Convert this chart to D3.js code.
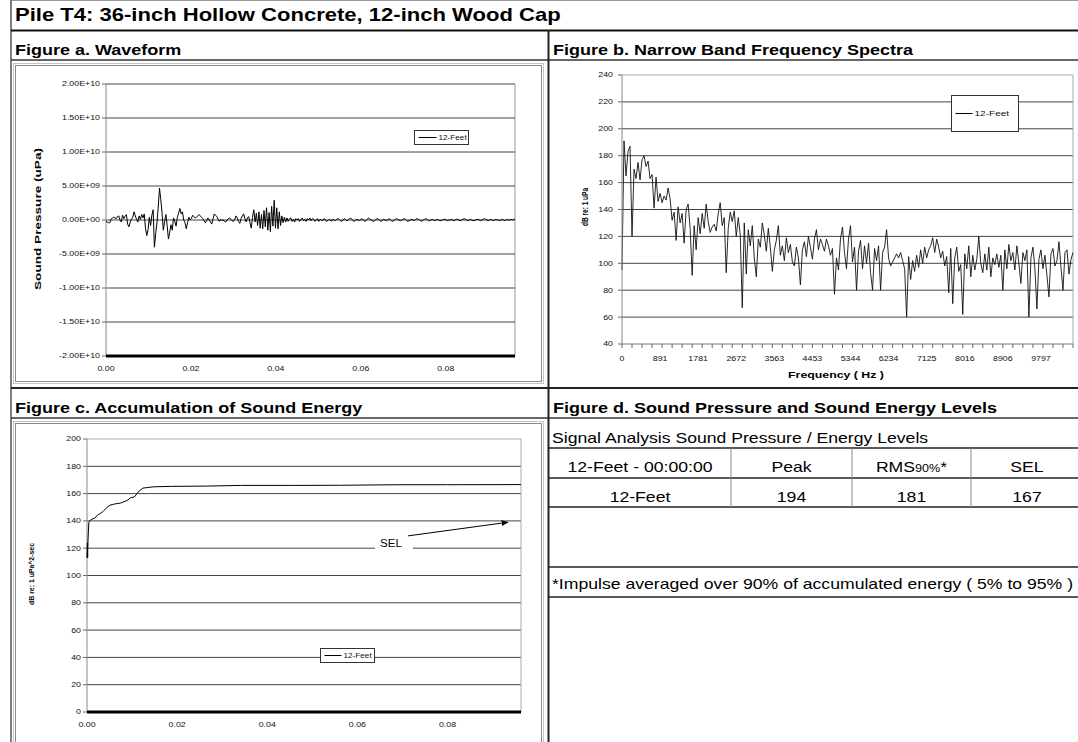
<!DOCTYPE html>
<html>
<head>
<meta charset="utf-8">
<script src="https://cdn.jsdelivr.net/npm/d3@7"></script>
<title>Pile T4</title>
<style>
	body { margin: 0; background: #fff; }
	svg { display: block; }
	text { font-family: "Liberation Sans", Arial, sans-serif; }
</style>
</head>
<body>
<svg></svg>
<script>
const width = 1078;
const height = 742;
const SX = 1.26; // the sheet is stretched sideways, so is the text

const pageTitle = "Pile T4: 36-inch Hollow Concrete, 12-inch Wood Cap";
const panelTitles = ["Figure a. Waveform", "Figure b. Narrow Band Frequency Spectra",
	"Figure c. Accumulation of Sound Energy", "Figure d. Sound Pressure and Sound Energy Levels"];
const seriesName = "12-Feet";

// figure a: waveform, one value every 0.0003 s, in 1e9 uPa
const waveStep = 0.0003;
const waveValues = [
	-0.2,-0.3,-0.4,-0.4,0.1,0.3,0.4,0.3,0.2,0.5,
	0.6,0.0,-0.3,0.7,0.2,0.6,0.8,-0.6,-1.0,-0.3,
	0.1,0.4,1.2,0.6,0.1,-0.3,0.6,0.1,0.8,0.3,
	0.9,-1.2,-2.3,-1.4,0.4,-0.8,0.7,1.5,-4.0,-2.0,
	-0.4,1.9,4.7,3.0,1.0,-1.5,-0.2,0.8,-0.8,-2.8,
	-1.8,-0.7,-1.5,0.3,-0.2,-0.9,0.4,1.0,1.7,0.9,
	1.2,0.0,-0.4,-1.3,-0.4,0.4,0.0,0.2,0.7,0.5,
	0.3,0.4,0.6,0.8,0.6,0.4,0.2,-0.1,-0.4,-0.1,
	0.3,0.0,-0.3,-0.6,0.2,0.9,0.7,0.5,0.1,-0.2,
	0.1,-0.1,0.0,-0.2,-0.3,0.0,0.2,0.3,0.1,-0.1,
	-0.2,0.1,0.6,0.3,-0.2,-0.5,0.2,0.6,0.9,0.2,
	-0.3,0.3,0.5,-0.4,-1.2,0.4,1.5,-0.3,1.0,-0.8,
	1.2,-1.2,0.8,-1.3,1.4,-1.0,1.8,-1.5,1.1,-1.7,
	2.0,-0.9,2.9,-1.2,1.8,-1.3,1.2,-0.8,0.6,-0.4,
	0.4,-0.3,0.3,-0.2,0.2,0.3,-0.2,0.1,-0.3,0.2,
	0.0,0.2,-0.2,0.1,0.3,-0.1,0.1,-0.2,0.2,0.0,
	0.3,-0.1,0.2,0.1,-0.2,0.0,0.2,-0.2,0.1,0.0,
	-0.1,0.2,0.1,-0.2,-0.1,0.1,0.0,-0.2,0.1,0.0,
	-0.1,0.1,0.2,0.1,-0.1,-0.2,0.0,0.2,0.1,-0.1,
	0.0,0.2,0.3,0.1,-0.1,-0.2,0.0,0.1,0.0,-0.1,
	0.1,0.2,0.0,-0.2,-0.1,0.1,0.3,0.2,0.0,-0.1,
	-0.2,-0.1,0.1,0.2,0.1,-0.1,-0.2,0.0,0.1,0.0,
	-0.1,0.0,0.2,0.1,-0.1,-0.2,-0.1,0.1,0.2,0.1,
	0.0,-0.1,0.0,0.1,0.2,0.1,-0.1,-0.2,-0.1,0.0,
	0.1,0.0,-0.1,0.1,0.2,0.1,0.0,-0.1,-0.2,0.0,
	0.1,0.2,0.1,-0.1,-0.1,0.0,0.1,0.0,-0.1,0.0,
	0.1,0.0,-0.1,-0.1,0.0,0.1,0.1,0.0,-0.1,0.0,
	0.0,0.1,0.0,-0.1,0.0,0.1,0.1,0.0,-0.1,0.0,
	0.1,0.2,0.1,0.0,-0.1,0.0,0.1,0.0,-0.1,-0.1,
	0.0,0.1,0.1,0.0,-0.1,0.0,0.1,0.2,0.1,0.0,
	-0.1,0.0,0.1,0.0,-0.1,0.0,0.1,0.0,0.0,-0.1,
	0.0,0.1,0.0,-0.1,0.0,0.1,0.0,0.0,0.1,0.0,
	0.1,0.1
];
const waveYTicks = [-2e10, -1.5e10, -1e10, -5e9, 0, 5e9, 1e10, 1.5e10, 2e10];
const timeTicks = [0, 0.02, 0.04, 0.06, 0.08];
const timeMax = 0.0963;

// figure b: spectrum, one value per 46.875 Hz bin
const binHz = 46.875;
const spectrumDb = [
	95,191,165,183,187,120,170,163,175,162,
	177,180,172,176,163,166,141,164,146,152,
	145,150,147,156,148,132,138,117,142,130,
	137,115,140,144,126,91,128,110,134,122,
	137,126,144,131,123,127,129,124,137,145,
	128,134,93,126,138,131,139,120,134,121,
	67,130,92,125,113,128,104,90,118,112,
	130,121,109,126,112,94,110,117,128,106,
	113,102,119,108,114,101,98,112,104,84,
	110,116,105,120,112,103,118,125,110,118,
	114,109,118,113,106,111,77,104,95,118,
	127,108,96,118,128,101,112,80,109,117,
	96,113,100,115,93,80,111,102,113,80,
	108,112,125,104,98,101,104,107,104,108,
	102,96,60,105,88,102,94,106,97,110,
	100,112,104,110,113,119,108,118,112,104,
	109,98,105,78,111,70,104,112,94,99,
	62,107,96,113,90,106,95,103,120,100,
	93,107,95,112,90,104,99,107,97,106,
	80,110,96,114,102,108,95,113,100,85,
	108,102,110,60,104,112,96,66,103,110,
	96,106,91,75,107,111,98,102,116,97,
	80,108,110,92,103,108
];
const specYTicks = [40, 60, 80, 100, 120, 140, 160, 180, 200, 220, 240];
const specXTicks = [0, 891, 1781, 2672, 3563, 4453, 5344, 6234, 7125, 8016, 8906, 9797];

// figure c: accumulated energy
const accTime = [0, 0.0002, 0.0004, 0.0009, 0.0017, 0.0024, 0.0030, 0.0036, 0.0043, 0.0051,
	0.0057, 0.0063, 0.0069, 0.0074, 0.0082, 0.0089, 0.0097, 0.0105, 0.0111, 0.0116,
	0.0124, 0.0135, 0.0150, 0.0188, 0.0265, 0.0341, 0.0450, 0.0560, 0.0692, 0.0800, 0.0963];
const accDb = [113, 124, 139, 141, 142, 144.5, 145.5, 147, 149.5, 151.5,
	152, 152.5, 152.8, 153, 154, 155, 157, 157.5, 160, 162,
	164, 164.5, 165, 165.3, 165.5, 166, 166, 166.1, 166.5, 166.5, 166.6];
const accYTicks = [0, 20, 40, 60, 80, 100, 120, 140, 160, 180, 200];
const selArrow = {from: [0.0712, 129], to: [0.0934, 139]};

// figure d: table
const tableCaption = "Signal Analysis Sound Pressure / Energy Levels";
const tableHead = ["12-Feet - 00:00:00", "Peak", "RMS", "SEL"];
const tableRow = ["12-Feet", "194", "181", "167"];
const footnote = "*Impulse averaged over 90% of accumulated energy ( 5% to 95% )";

const svg = d3.select("svg").attr("width", width).attr("height", height);

function label(g, x, y, str, o = {}) {
	return g.append("text")
		.attr("transform", `translate(${x},${y}) scale(${o.sx || SX},1)`)
		.attr("text-anchor", o.anchor || "start")
		.attr("dy", o.dy || null)
		.attr("font-size", o.size || 7)
		.attr("font-weight", o.weight || "normal")
		.attr("fill", o.fill || "#111")
		.text(str);
}

function yTitle(g, x, y, str, size, len) {
	g.append("text")
		.attr("transform", `translate(${x},${y}) scale(${SX},1) rotate(-90)`)
		.attr("text-anchor", "middle")
		.attr("dy", "0.35em")
		.attr("font-size", size)
		.attr("font-weight", "bold")
		.attr("textLength", len)
		.attr("lengthAdjust", "spacingAndGlyphs")
		.text(str);
}

function hline(g, x1, x2, y, color, w) {
	g.append("line").attr("x1", x1).attr("x2", x2).attr("y1", y).attr("y2", y)
		.attr("stroke", color).attr("stroke-width", w);
}
function vline(g, x, y1, y2, color, w) {
	g.append("line").attr("x1", x).attr("x2", x).attr("y1", y1).attr("y2", y2)
		.attr("stroke", color).attr("stroke-width", w);
}

function legend(g, x, y, w, h, lineW, size) {
	g.append("rect").attr("x", x).attr("y", y).attr("width", w).attr("height", h)
		.attr("fill", "#fff").attr("stroke", "#333").attr("stroke-width", 1);
	hline(g, x + 4, x + 4 + lineW, y + h / 2, "#000", 1);
	label(g, x + 6 + lineW, y + h / 2, seriesName, {size: size, dy: "0.35em"});
}

// ---------- sheet grid ----------
const sheet = svg.append("g");
hline(sheet, 11, width, 0.5, "#999", 1);
vline(sheet, 11, 0, height, "#555", 1.5);
hline(sheet, 11, width, 30.5, "#111", 2);
hline(sheet, 11, width, 60, "#333", 1.5);
hline(sheet, 11, width, 388, "#222", 2);
hline(sheet, 11, width, 418, "#333", 1.5);
vline(sheet, 548.5, 30, height, "#222", 2);

label(sheet, 15, 21, pageTitle, {size: 17.5, weight: "bold", fill: "#000"});
label(sheet, 15, 54.5, panelTitles[0], {size: 14.3, weight: "bold", fill: "#000"});
label(sheet, 553, 54.5, panelTitles[1], {size: 14.3, weight: "bold", fill: "#000"});
label(sheet, 15, 413, panelTitles[2], {size: 14.3, weight: "bold", fill: "#000"});
label(sheet, 553, 413, panelTitles[3], {size: 14.3, weight: "bold", fill: "#000"});

// chart frames for a and c
[[13.5, 63.5, 530, 320], [13.5, 421.5, 530, 330]].forEach(([x, y, w, h]) => {
	sheet.append("rect").attr("x", x).attr("y", y).attr("width", w).attr("height", h)
		.attr("fill", "none").attr("stroke", "#c4c4c4");
	sheet.append("rect").attr("x", x + 2).attr("y", y + 2).attr("width", w - 4).attr("height", h - 4)
		.attr("fill", "none").attr("stroke", "#8a8a8a");
});

// ---------- figure a ----------
const ga = svg.append("g");
const xA = d3.scaleLinear([0, timeMax], [106, 515]);
const yA = d3.scaleLinear([-2e10, 2e10], [356, 84]);
const sci = v => {
	if (v === 0) return "0.00E+00";
	const e = Math.floor(Math.log10(Math.abs(v)) + 1e-9);
	const m = v / Math.pow(10, e);
	return m.toFixed(2) + "E" + (e < 0 ? "-" : "+") + String(Math.abs(e)).padStart(2, "0");
};
vline(ga, xA.range()[1], yA(2e10), yA(-2e10), "#999", 1);
waveYTicks.forEach(t => {
	if (t > -2e10) hline(ga, xA.range()[0], xA.range()[1], yA(t), "#444", 1);
	hline(ga, xA.range()[0] - 4, xA.range()[0], yA(t), "#666", 1);
	label(ga, xA.range()[0] - 6, yA(t), sci(t), {anchor: "end", dy: "0.35em"});
});
vline(ga, xA.range()[0], yA(2e10), yA(-2e10), "#888", 1);
timeTicks.forEach(t => label(ga, xA(t), yA(-2e10) + 14.5, t.toFixed(2), {anchor: "middle"}));
ga.append("path")
	.datum(waveValues)
	.attr("fill", "none").attr("stroke", "#000").attr("stroke-width", 1)
	.attr("d", d3.line().x((d, i) => xA(i * waveStep)).y(d => yA(d * 1e9)));
hline(ga, xA.range()[0], xA.range()[1], yA(-2e10), "#000", 3);
yTitle(ga, 38, 219, "Sound Pressure (uPa)", 7.5, 142);
legend(ga, 414.5, 130.5, 54, 14, 18, 6.5);

// ---------- figure b ----------
const gb = svg.append("g");
const xB = d3.scaleLinear([0, (spectrumDb.length - 1) * binHz], [622, 1073]);
const yB = d3.scaleLinear([40, 240], [344, 75]);
specYTicks.forEach(t => {
	if (t > 40 && t < 240) hline(gb, xB.range()[0], xB.range()[1], yB(t), "#444", 1);
	hline(gb, xB.range()[0] - 4, xB.range()[0], yB(t), "#666", 1);
	label(gb, xB.range()[0] - 9, yB(t), t, {anchor: "end", dy: "0.35em"});
});
hline(gb, xB.range()[0], xB.range()[1], yB(240), "#aaa", 1);
vline(gb, xB.range()[1], yB(240), yB(40), "#aaa", 1);
d3.range(0, xB.domain()[1] + 1, 5 * binHz).forEach(f => vline(gb, xB(f), yB(40), yB(40) + 4, "#666", 1));
specXTicks.forEach(f => label(gb, xB(f), yB(40) + 16.5, f, {anchor: "middle"}));
label(gb, 836, 377.5, "Frequency ( Hz )", {anchor: "middle", size: 9.8, weight: "bold", fill: "#000"});
gb.append("path")
	.datum(spectrumDb)
	.attr("fill", "none").attr("stroke", "#111").attr("stroke-width", 0.9)
	.attr("d", d3.line().x((d, i) => xB(i * binHz)).y(d => yB(d)));
hline(gb, xB.range()[0], xB.range()[1], yB(40), "#777", 1);
vline(gb, xB.range()[0], yB(240), yB(40), "#888", 1);
yTitle(gb, 585, 207, "dB re: 1 uPa", 7, 38);
legend(gb, 951.5, 95.5, 67, 36, 17, 8);

// ---------- figure c ----------
const gc = svg.append("g");
const xC = d3.scaleLinear([0, timeMax], [87, 521]);
const yC = d3.scaleLinear([0, 200], [712, 439]);
accYTicks.forEach(t => {
	if (t > 0 && t < 200) hline(gc, xC.range()[0], xC.range()[1], yC(t), "#444", 1);
	hline(gc, xC.range()[0] - 4, xC.range()[0], yC(t), "#666", 1);
	label(gc, xC.range()[0] - 6, yC(t), t, {anchor: "end", dy: "0.35em"});
});
hline(gc, xC.range()[0], xC.range()[1], yC(200), "#aaa", 1);
vline(gc, xC.range()[1], yC(200), yC(0), "#aaa", 1);
vline(gc, xC.range()[0], yC(200), yC(0), "#888", 1);
timeTicks.forEach(t => label(gc, xC(t), yC(0) + 14.5, t.toFixed(2), {anchor: "middle"}));
gc.append("path")
	.datum(d3.zip(accTime, accDb))
	.attr("fill", "none").attr("stroke", "#000").attr("stroke-width", 1)
	.attr("d", d3.line().x(d => xC(d[0])).y(d => yC(d[1])));
vline(gc, xC(0) + 0.5, yC(accDb[0]), yC(accDb[1]), "#000", 1.5);
hline(gc, xC.range()[0], xC.range()[1], yC(0), "#000", 3);
yTitle(gc, 32, 574, "dB re: 1 uPa^2-sec", 5.5, 62);
legend(gc, 320.5, 648.5, 54, 14, 17, 6.5);

// SEL note
svg.append("defs").append("marker")
	.attr("id", "arrow").attr("viewBox", "0 0 10 10").attr("refX", 9).attr("refY", 5)
	.attr("markerWidth", 7).attr("markerHeight", 7).attr("orient", "auto")
	.append("path").attr("d", "M0,1L10,5L0,9z").attr("fill", "#000");
gc.append("rect").attr("x", 375).attr("y", 533).attr("width", 38).attr("height", 19).attr("fill", "#fff");
label(gc, 391, 546.5, "SEL", {anchor: "middle", size: 11, sx: 1.05, fill: "#000"});
gc.append("line")
	.attr("x1", xC(selArrow.from[0])).attr("y1", yC(selArrow.from[1]))
	.attr("x2", xC(selArrow.to[0])).attr("y2", yC(selArrow.to[1]))
	.attr("stroke", "#000").attr("stroke-width", 1).attr("marker-end", "url(#arrow)");

// ---------- figure d ----------
const gd = svg.append("g");
const colEdges = [549, 731, 852, 971, 1083];
label(gd, 552, 443, tableCaption, {size: 14, fill: "#000"});
[448, 478, 507, 567, 597].forEach(y => hline(gd, 549, width, y, "#222", 1.5));
colEdges.slice(1, 4).forEach(x => vline(gd, x, 448, 507, "#888", 1));
tableHead.forEach((s, i) => {
	const cx = (colEdges[i] + colEdges[i + 1]) / 2;
	const t = label(gd, cx, 472, s, {anchor: "middle", size: 14, fill: "#000"});
	if (s === "RMS") {
		t.append("tspan").attr("font-size", 10).text("90%");
		t.append("tspan").text("*");
	}
});
tableRow.forEach((s, i) => {
	const cx = (colEdges[i] + colEdges[i + 1]) / 2;
	label(gd, cx, 502, s, {anchor: "middle", size: 14, fill: "#000"});
});
label(gd, 552, 589, footnote, {size: 14, fill: "#000"});
</script>
</body>
</html>
